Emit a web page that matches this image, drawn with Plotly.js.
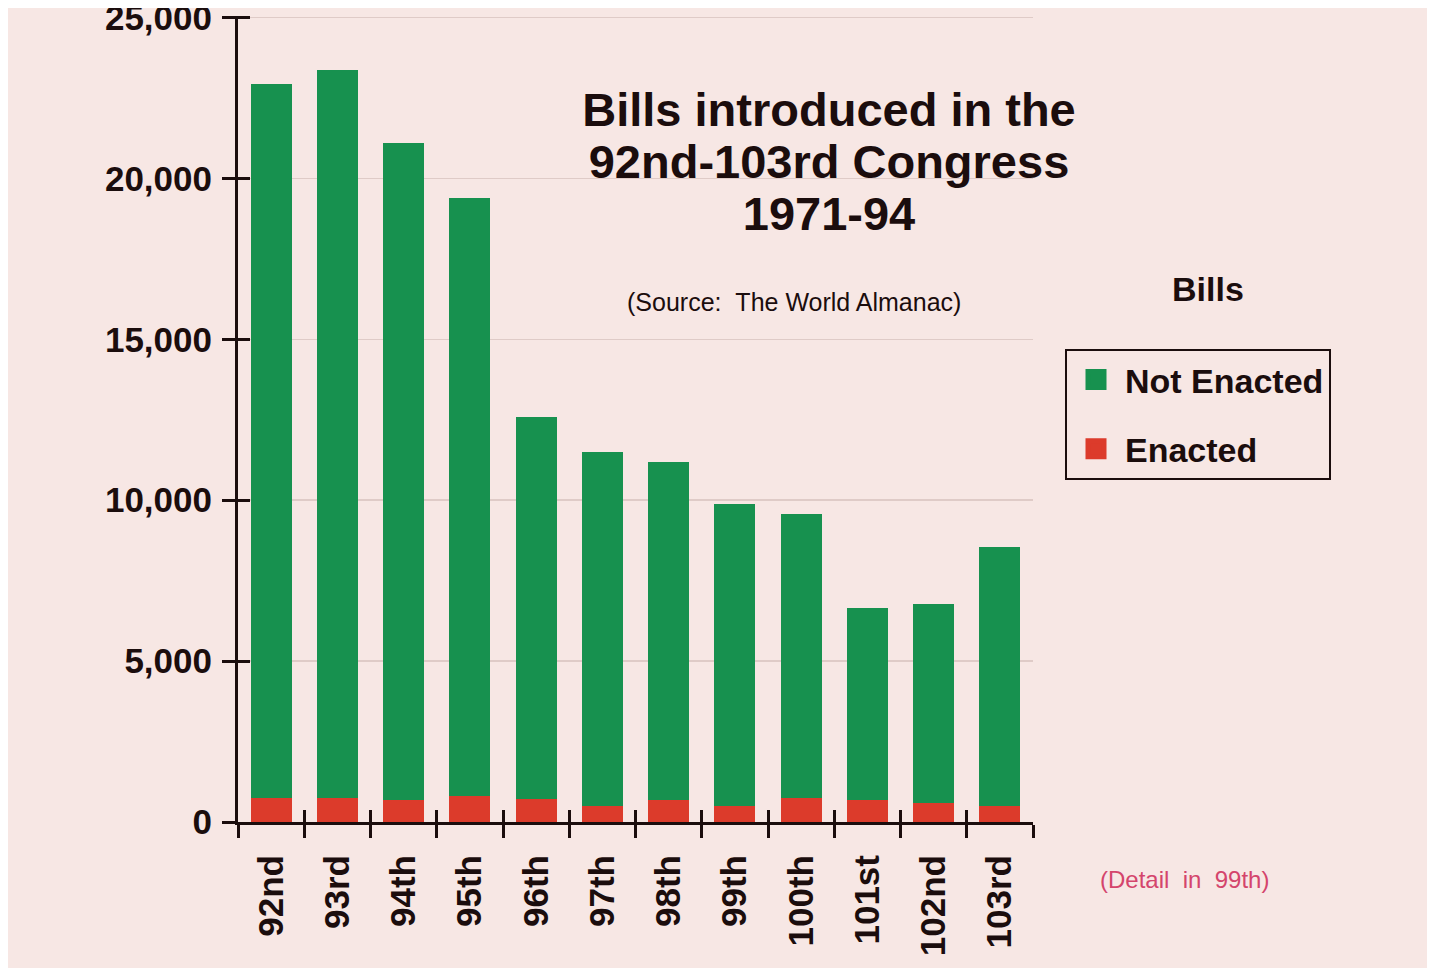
<!DOCTYPE html>
<html>
<head>
<meta charset="utf-8">
<script src="https://cdn.plot.ly/plotly-3.0.1.min.js"></script>
<style>
html, body { margin: 0; padding: 0; background: #ffffff; }
#chart { position: absolute; left: 8px; top: 8px; width: 1419px; height: 960px; }
</style>
</head>
<body>
<div id="chart"></div>
<script>
// ---- data ----
const congresses = ["92nd", "93rd", "94th", "95th", "96th", "97th", "98th", "99th", "100th", "101st", "102nd", "103rd"];
const enacted    = [745, 745, 690, 795, 710, 485, 670, 485, 760, 670, 605, 485];
const notEnacted = [22205, 22640, 20428, 18584, 11868, 11006, 10510, 9391, 8805, 5976, 6165, 8055];
const seriesNames = ["Not Enacted", "Enacted"];
const yTickValues = [0, 5000, 10000, 15000, 20000, 25000];
const yTickLabels = ["0", "5,000", "10,000", "15,000", "20,000", "25,000"];

// ---- styling ----
const FONT = "Liberation Sans, Arial, Helvetica, sans-serif";
const INK = "#1b0d0d";
const GREEN = "#17914f";
const RED = "#dc3b2b";
const BG = "#f7e7e4";

// page-pixel -> paper helpers (plot area: page x 238..1033, y 16..822)
const L = 230, R = 394, T = 8, B = 146, W = 1419, H = 960;
const pw = W - L - R, ph = H - T - B;
const px = p => (p - 8 - L) / pw;
const py = p => (H - B - (p - 8)) / ph;

const traces = [
  { type: "bar", name: seriesNames[1], x: congresses, y: enacted,
    marker: { color: RED, line: { width: 0 } }, width: 0.62,
    showlegend: false, hoverinfo: "skip" },
  { type: "bar", name: seriesNames[0], x: congresses, y: notEnacted,
    marker: { color: GREEN, line: { width: 0 } }, width: 0.62,
    showlegend: false, hoverinfo: "skip" },
  // legend entries (bigger swatches), on overlay axes
  { type: "scatter", mode: "markers", name: seriesNames[0], legendgroup: "g1",
    x: congresses, y: congresses.map(() => null), xaxis: "x2", yaxis: "y2",
    marker: { symbol: "square", size: 16, color: GREEN, line: { color: GREEN, width: 5 } },
    hoverinfo: "skip" },
  { type: "scatter", mode: "markers", name: seriesNames[1], legendgroup: "g2",
    x: congresses, y: congresses.map(() => null), xaxis: "x2", yaxis: "y2",
    marker: { symbol: "square", size: 16, color: RED, line: { color: RED, width: 5 } },
    hoverinfo: "skip" }
];

const Y_MAX = 25050;

const layout = {
  width: W, height: H,
  paper_bgcolor: BG, plot_bgcolor: "rgba(0,0,0,0)",
  margin: { l: L, r: R, t: T, b: B, pad: 0 },
  barmode: "stack",
  font: { family: FONT, color: INK },
  title: {
    text: '<span style="font-size:47px">Bills introduced in the</span><br>' +
          '<span style="font-size:47px">92nd-103rd Congress</span><br>' +
          '<span style="font-size:47px">1971-94</span>',
    font: { family: FONT, size: 40, color: INK, weight: 700 },
    xref: "container", x: (829 - 8) / W, xanchor: "center",
    yref: "container", y: 1 - (126 - 8) / H, yanchor: "top"
  },
  xaxis: {
    type: "category", categoryorder: "array", categoryarray: congresses,
    range: [-0.5, 11.5], fixedrange: true,
    showline: true, linecolor: INK, linewidth: 3,
    ticks: "outside", tickson: "boundaries", ticklen: 13, tickwidth: 3, tickcolor: INK,
    tickangle: -90, ticklabelstandoff: 16,
    tickfont: { family: FONT, size: 35, color: INK, weight: 700 },
    showgrid: false, zeroline: false
  },
  xaxis2: {
    type: "category", categoryorder: "array", categoryarray: congresses,
    overlaying: "x", matches: "x", anchor: "y2",
    ticks: "inside", tickson: "boundaries", ticklen: 12, tickwidth: 3, tickcolor: INK,
    showticklabels: false, showline: false, showgrid: false, zeroline: false
  },
  yaxis: {
    range: [0, Y_MAX], fixedrange: true,
    tickmode: "array", tickvals: yTickValues, ticktext: yTickLabels,
    showline: true, linecolor: INK, linewidth: 3,
    ticks: "outside", ticklen: 13, tickwidth: 3, tickcolor: INK,
    ticklabelstandoff: 3, ticklabeloverflow: "allow",
    tickfont: { family: FONT, size: 35, color: INK, weight: 700 },
    showgrid: true, gridcolor: "#dfcbc7", gridwidth: 1.5, zeroline: false
  },
  yaxis2: {
    overlaying: "y", matches: "y", anchor: "x2", range: [0, Y_MAX],
    tickmode: "array", tickvals: yTickValues,
    ticks: "inside", ticklen: 12, tickwidth: 3, tickcolor: INK,
    showticklabels: false, showline: false, showgrid: false, zeroline: false
  },
  legend: {
    xref: "paper", yref: "paper",
    x: px(1065), y: py(349), xanchor: "left", yanchor: "top",
    bordercolor: INK, borderwidth: 2, bgcolor: "rgba(0,0,0,0)",
    font: { family: FONT, size: 34, color: INK, weight: 700 },
    traceorder: "grouped", tracegroupgap: 22, itemwidth: 48
  },
  annotations: [
    { text: "(Source:&nbsp;&nbsp;The World Almanac)", showarrow: false,
      xref: "paper", yref: "paper", x: px(794), y: py(302), xanchor: "center", yanchor: "middle",
      font: { family: FONT, size: 25, color: INK } },
    { text: "Bills", showarrow: false,
      xref: "paper", yref: "paper", x: px(1208), y: py(289), xanchor: "center", yanchor: "middle",
      font: { family: FONT, size: 34, color: INK, weight: 700 } },
    { text: "(Detail&nbsp;&nbsp;in&nbsp;&nbsp;99th)", showarrow: false,
      xref: "paper", yref: "paper", x: px(1184), y: py(880), xanchor: "center", yanchor: "middle",
      font: { family: FONT, size: 24, color: "#d4456c" } }
  ],
  showlegend: true
};

Plotly.newPlot("chart", traces, layout, { displayModeBar: false, staticPlot: true });
</script>
</body>
</html>
